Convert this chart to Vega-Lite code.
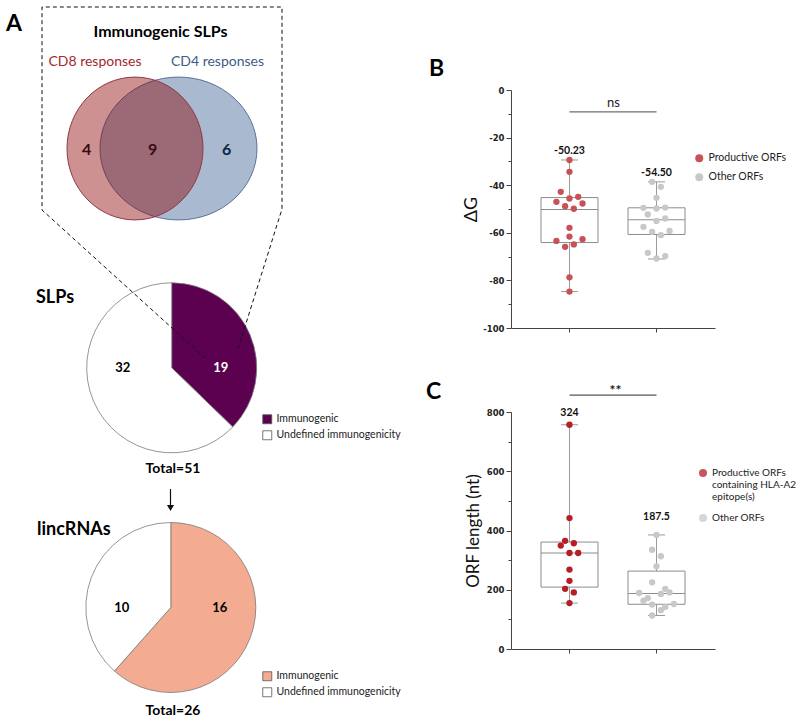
{
  "$schema": "https://vega.github.io/schema/vega-lite/v6.json",
  "padding": 0,
  "background": "white",
  "bounds": "flush",
  "spacing": 66,
  "config": {"view": {"stroke": null}, "font": "Lato", "axis": {"grid": false}},
  "resolve": {"scale": {"x": "independent", "y": "independent", "color": "independent"}},
  "datasets": {
    "venn": [
      {"set": "CD4", "cx": 17.85, "cy": 14.85},
      {"set": "CD8", "cx": 13.5, "cy": 14.85}
    ],
    "vennN": [
      {"region": "CD8 only", "n": 4, "cx": 8.67, "cy": 15.0},
      {"region": "CD8 and CD4", "n": 9, "cx": 15.27, "cy": 15.0},
      {"region": "CD4 only", "n": 6, "cx": 22.67, "cy": 15.0}
    ],
    "pies": [
      {"pie": "SLPs", "status": "Immunogenic", "n": 19, "cx": 17.17, "cy": 36.78},
      {"pie": "SLPs", "status": "Undefined immunogenicity", "n": 32, "cx": 17.17, "cy": 36.78},
      {"pie": "lincRNAs", "status": "Immunogenic", "n": 16, "cx": 17.08, "cy": 60.75},
      {"pie": "lincRNAs", "status": "Undefined immunogenicity", "n": 10, "cx": 17.08, "cy": 60.75}
    ],
    "outline": [
      {"seq": 0, "cx": 20.5, "cy": 35.8},
      {"seq": 1, "cx": 4.2, "cy": 21.0},
      {"seq": 2, "cx": 4.2, "cy": 0.7},
      {"seq": 3, "cx": 28.2, "cy": 0.7},
      {"seq": 4, "cx": 28.2, "cy": 20.9},
      {"seq": 5, "cx": 23.7, "cy": 35.2}
    ],
    "arrow": [{"cx": 17.05, "cy": 48.9, "cy2": 50.8}],
    "labels": [
      {"kind": "panel", "text": "A", "cx": 0.6, "cy": 2.4},
      {"kind": "panel", "text": "B", "cx": 42.9, "cy": 6.9},
      {"kind": "panel", "text": "C", "cx": 42.6, "cy": 39.2},
      {"kind": "heading", "text": "Immunogenic SLPs", "cx": 16.05, "cy": 3.2},
      {"kind": "cd8", "text": "CD8 responses", "cx": 9.5, "cy": 6.2},
      {"kind": "cd4", "text": "CD4 responses", "cx": 21.75, "cy": 6.2},
      {"kind": "pietitle", "text": "SLPs", "cx": 3.6, "cy": 29.8},
      {"kind": "pietitle", "text": "lincRNAs", "cx": 3.7, "cy": 53.0},
      {"kind": "total", "text": "Total=51", "cx": 17.3, "cy": 46.9},
      {"kind": "total", "text": "Total=26", "cx": 17.3, "cy": 71.1}
    ],
    "ptsB": [
      {"group": "Productive ORFs", "value": -29.4, "lane": 0},
      {"group": "Productive ORFs", "value": -34.4, "lane": 0},
      {"group": "Productive ORFs", "value": -42.8, "lane": -2},
      {"group": "Productive ORFs", "value": -47.0, "lane": -3},
      {"group": "Productive ORFs", "value": -45.6, "lane": 0},
      {"group": "Productive ORFs", "value": -44.9, "lane": 2},
      {"group": "Productive ORFs", "value": -48.8, "lane": -1},
      {"group": "Productive ORFs", "value": -49.9, "lane": 1},
      {"group": "Productive ORFs", "value": -47.7, "lane": 3},
      {"group": "Productive ORFs", "value": -57.9, "lane": 0},
      {"group": "Productive ORFs", "value": -61.6, "lane": 0},
      {"group": "Productive ORFs", "value": -63.4, "lane": -3},
      {"group": "Productive ORFs", "value": -62.7, "lane": 3},
      {"group": "Productive ORFs", "value": -65.9, "lane": -1},
      {"group": "Productive ORFs", "value": -64.9, "lane": 1},
      {"group": "Productive ORFs", "value": -78.7, "lane": 0},
      {"group": "Productive ORFs", "value": -84.7, "lane": 0},
      {"group": "Other ORFs", "value": -49.5, "lane": -3},
      {"group": "Other ORFs", "value": -49.8, "lane": 0},
      {"group": "Other ORFs", "value": -49.4, "lane": 2},
      {"group": "Other ORFs", "value": -52.3, "lane": -2},
      {"group": "Other ORFs", "value": -55.0, "lane": 0},
      {"group": "Other ORFs", "value": -54.0, "lane": 2},
      {"group": "Other ORFs", "value": -57.5, "lane": -3},
      {"group": "Other ORFs", "value": -59.6, "lane": -1},
      {"group": "Other ORFs", "value": -61.0, "lane": 1},
      {"group": "Other ORFs", "value": -59.2, "lane": 3},
      {"group": "Other ORFs", "value": -45.3, "lane": 0},
      {"group": "Other ORFs", "value": -38.6, "lane": -1},
      {"group": "Other ORFs", "value": -40.7, "lane": 1},
      {"group": "Other ORFs", "value": -68.4, "lane": -2},
      {"group": "Other ORFs", "value": -69.8, "lane": 2},
      {"group": "Other ORFs", "value": -70.8, "lane": 0}
    ],
    "boxB": [
      {"group": "Productive ORFs", "q1": -64.1, "median": -50.23, "q3": -45.2, "lo": -84.7, "hi": -29.4, "label": "-50.23"},
      {"group": "Other ORFs", "q1": -60.7, "median": -54.5, "q3": -49.5, "lo": -71.0, "hi": -38.6, "label": "-54.50"}
    ],
    "brB": [{"group": "Productive ORFs", "group2": "Other ORFs", "level": -9.2, "sig": "ns"}],
    "ptsC": [
      {"group": "Productive ORFs containing HLA-A2 epitope(s)", "value": 757, "lane": 0},
      {"group": "Productive ORFs containing HLA-A2 epitope(s)", "value": 442, "lane": 0},
      {"group": "Productive ORFs containing HLA-A2 epitope(s)", "value": 365, "lane": -1},
      {"group": "Productive ORFs containing HLA-A2 epitope(s)", "value": 349, "lane": -2},
      {"group": "Productive ORFs containing HLA-A2 epitope(s)", "value": 357, "lane": 1},
      {"group": "Productive ORFs containing HLA-A2 epitope(s)", "value": 324, "lane": 0},
      {"group": "Productive ORFs containing HLA-A2 epitope(s)", "value": 324, "lane": 2},
      {"group": "Productive ORFs containing HLA-A2 epitope(s)", "value": 268, "lane": 0},
      {"group": "Productive ORFs containing HLA-A2 epitope(s)", "value": 230, "lane": 0},
      {"group": "Productive ORFs containing HLA-A2 epitope(s)", "value": 203, "lane": -1},
      {"group": "Productive ORFs containing HLA-A2 epitope(s)", "value": 191, "lane": 1},
      {"group": "Productive ORFs containing HLA-A2 epitope(s)", "value": 155, "lane": 0},
      {"group": "Other ORFs", "value": 385, "lane": 0},
      {"group": "Other ORFs", "value": 335, "lane": -1},
      {"group": "Other ORFs", "value": 313, "lane": 1},
      {"group": "Other ORFs", "value": 279, "lane": 0},
      {"group": "Other ORFs", "value": 225, "lane": -1},
      {"group": "Other ORFs", "value": 189, "lane": -4},
      {"group": "Other ORFs", "value": 203, "lane": 2},
      {"group": "Other ORFs", "value": 191, "lane": 3},
      {"group": "Other ORFs", "value": 186, "lane": 1},
      {"group": "Other ORFs", "value": 172, "lane": -2},
      {"group": "Other ORFs", "value": 163, "lane": -3},
      {"group": "Other ORFs", "value": 150, "lane": -1},
      {"group": "Other ORFs", "value": 152, "lane": 4},
      {"group": "Other ORFs", "value": 142, "lane": 2},
      {"group": "Other ORFs", "value": 131, "lane": 1},
      {"group": "Other ORFs", "value": 113, "lane": -1}
    ],
    "boxC": [
      {"group": "Productive ORFs containing HLA-A2 epitope(s)", "q1": 209, "median": 324, "q3": 361, "lo": 155, "hi": 757, "label": "324"},
      {"group": "Other ORFs", "q1": 151, "median": 187.5, "q3": 263, "lo": 113, "hi": 385, "label": "187.5"}
    ],
    "brC": [{"group": "Productive ORFs containing HLA-A2 epitope(s)", "group2": "Other ORFs", "level": 857, "sig": "**"}]
  },
  "hconcat": [
    {
      "width": 445,
      "height": 720,
      "resolve": {"scale": {"theta": "independent", "color": "independent"}},
      "encoding": {
        "x": {"field": "cx", "type": "quantitative", "scale": {"domain": [0, 44.5], "nice": false, "zero": false}, "axis": null},
        "y": {"field": "cy", "type": "quantitative", "scale": {"domain": [0, 72], "nice": false, "zero": false, "reverse": true}, "axis": null}
      },
      "layer": [
        {
          "data": {"name": "pies"},
          "transform": [{"filter": "datum.pie == 'SLPs'"}],
          "mark": {"type": "arc", "outerRadius": 85, "stroke": "#7a7a7a", "strokeWidth": 0.8},
          "encoding": {
            "theta": {"field": "n", "type": "quantitative", "stack": true},
            "color": {"field": "status", "type": "nominal",
              "scale": {"domain": ["Immunogenic", "Undefined immunogenicity"], "range": ["#5C0150", "#FFFFFF"]},
              "legend": {"orient": "none", "legendX": 262, "legendY": 414, "title": null, "symbolType": "square", "symbolSize": 81, "labelFont": "Lato", "labelFontSize": 10.5, "labelColor": "#222", "rowPadding": 3, "padding": 0, "symbolStrokeColor": "#555", "symbolStrokeWidth": 0.8}}
          }
        },
        {
          "data": {"name": "pies"},
          "transform": [{"filter": "datum.pie == 'lincRNAs'"}],
          "mark": {"type": "arc", "outerRadius": 85, "stroke": "#7a7a7a", "strokeWidth": 0.8},
          "encoding": {
            "theta": {"field": "n", "type": "quantitative", "stack": true},
            "color": {"field": "status", "type": "nominal",
              "scale": {"domain": ["Immunogenic", "Undefined immunogenicity"], "range": ["#F3AB91", "#FFFFFF"]},
              "legend": {"orient": "none", "legendX": 262, "legendY": 671, "title": null, "symbolType": "square", "symbolSize": 81, "labelFont": "Lato", "labelFontSize": 10.5, "labelColor": "#222", "rowPadding": 3, "padding": 0, "symbolStrokeColor": "#555", "symbolStrokeWidth": 0.8}}
          }
        },
        {
          "data": {"name": "venn"},
          "transform": [{"filter": "datum.set == 'CD4'"}],
          "mark": {"type": "point", "shape": "M-1,0A1,0.91,0,1,1,1,0A1,0.91,0,1,1,-1,0Z", "size": 24649, "filled": true, "fill": "#A9B9D0", "fillOpacity": 1, "stroke": "#5B7399", "strokeWidth": 1, "opacity": 1}
        },
        {
          "data": {"name": "venn"},
          "transform": [{"filter": "datum.set == 'CD8'"}],
          "mark": {"type": "point", "shape": "M-1,0A1,1.05,0,1,1,1,0A1,1.05,0,1,1,-1,0Z", "size": 18496, "filled": true, "fill": "#8B0000", "fillOpacity": 0.43, "stroke": "#8E3A44", "strokeOpacity": 1, "strokeWidth": 1, "opacity": 1}
        },
        {
          "data": {"name": "vennN"},
          "mark": {"type": "text", "font": "Lato", "fontWeight": "bold", "fontSize": 16, "baseline": "middle", "align": "center"},
          "encoding": {
            "text": {"field": "n"},
            "color": {"field": "region", "type": "nominal", "scale": {"domain": ["CD8 only", "CD8 and CD4", "CD4 only"], "range": ["#3B0B10", "#3B0B14", "#0E2444"]}, "legend": null}
          }
        },
        {
          "data": {"name": "outline"},
          "mark": {"type": "line", "strokeDash": [4, 3], "color": "#111", "strokeWidth": 1},
          "encoding": {"order": {"field": "seq", "type": "quantitative"}}
        },
        {
          "data": {"name": "arrow"},
          "mark": {"type": "rule", "color": "#111", "strokeWidth": 1.2},
          "encoding": {"y2": {"field": "cy2"}}
        },
        {
          "data": {"name": "arrow"},
          "mark": {"type": "point", "shape": "triangle-down", "size": 50, "filled": true, "color": "#111", "opacity": 1},
          "encoding": {"y": {"field": "cy2", "type": "quantitative", "scale": {"domain": [0, 72], "nice": false, "zero": false, "reverse": true}, "axis": null}}
        },
        {
          "data": {"name": "labels"},
          "transform": [{"filter": "datum.kind == 'panel'"}],
          "mark": {"type": "text", "font": "Lato", "fontWeight": "bold", "fontSize": 23, "align": "left", "baseline": "middle", "color": "#000"},
          "encoding": {"text": {"field": "text"}}
        },
        {
          "data": {"name": "labels"},
          "transform": [{"filter": "datum.kind == 'heading'"}],
          "mark": {"type": "text", "font": "Lato", "fontWeight": "bold", "fontSize": 16, "align": "center", "baseline": "middle", "color": "#000"},
          "encoding": {"text": {"field": "text"}}
        },
        {
          "data": {"name": "labels"},
          "transform": [{"filter": "datum.kind == 'cd8'"}],
          "mark": {"type": "text", "font": "Lato", "fontSize": 14, "align": "center", "baseline": "middle", "color": "#A2282E"},
          "encoding": {"text": {"field": "text"}}
        },
        {
          "data": {"name": "labels"},
          "transform": [{"filter": "datum.kind == 'cd4'"}],
          "mark": {"type": "text", "font": "Lato", "fontSize": 14, "align": "center", "baseline": "middle", "color": "#3F5C86"},
          "encoding": {"text": {"field": "text"}}
        },
        {
          "data": {"name": "labels"},
          "transform": [{"filter": "datum.kind == 'pietitle'"}],
          "mark": {"type": "text", "font": "Lato", "fontWeight": "bold", "fontSize": 18, "align": "left", "baseline": "middle", "color": "#000"},
          "encoding": {"text": {"field": "text"}}
        },
        {
          "data": {"name": "labels"},
          "transform": [{"filter": "datum.kind == 'total'"}],
          "mark": {"type": "text", "font": "Lato", "fontWeight": "bold", "fontSize": 14, "align": "center", "baseline": "middle", "color": "#000"},
          "encoding": {"text": {"field": "text"}}
        },
        {
          "data": {"name": "pies"},
          "transform": [{"filter": "datum.status == 'Immunogenic'"}],
          "mark": {"type": "text", "font": "Lato", "fontWeight": "bold", "fontSize": 13, "align": "center", "baseline": "middle", "dx": 49},
          "encoding": {
            "text": {"field": "n"},
            "color": {"condition": {"test": "datum.pie == 'SLPs'", "value": "#FFFFFF"}, "value": "#000000"}
          }
        },
        {
          "data": {"name": "pies"},
          "transform": [{"filter": "datum.status != 'Immunogenic'"}],
          "mark": {"type": "text", "font": "Lato", "fontWeight": "bold", "fontSize": 13, "align": "center", "baseline": "middle", "dx": -49, "color": "#000"},
          "encoding": {"text": {"field": "n"}}
        }
      ]
    },
    {
      "bounds": "flush",
      "spacing": 84,
      "resolve": {"scale": {"x": "independent", "y": "independent", "color": "independent", "xOffset": "independent"}},
      "vconcat": [
        {"width": 204, "height": 6, "data": {"values": []}, "mark": "point", "encoding": {}},
        {
          "width": 204,
          "height": 238,
          "encoding": {
            "x": {"field": "group", "type": "nominal", "title": null,
              "scale": {"domain": ["Productive ORFs", "Other ORFs"], "paddingInner": 0, "paddingOuter": 0.172},
              "axis": {"title": null, "labels": false, "ticks": true, "tickSize": 4, "bandPosition": 0.5, "domainColor": "#444", "tickColor": "#444", "domainWidth": 1}}
          },
          "layer": [
            {
              "data": {"name": "brB"},
              "mark": {"type": "rule", "color": "#6e6e6e", "strokeWidth": 1.3},
              "encoding": {
                "x2": {"field": "group2"},
                "y": {"field": "level", "type": "quantitative", "scale": {"domain": [-100, 0], "nice": false, "zero": false},
                  "axis": {"title": "ΔG", "values": [-100, -90, -80, -70, -60, -50, -40, -30, -20, -10, 0], "labelExpr": "datum.value % 20 == 0 ? '' + datum.value : ''", "labelOverlap": false, "tickSize": {"condition": {"test": "datum.value % 20 == 0", "value": 5}, "value": 3}, "labelFont": "DejaVu Sans", "labelFontWeight": "bold", "labelFontSize": 8.5, "labelColor": "#222", "labelPadding": 2, "domainColor": "#444", "tickColor": "#444", "domainWidth": 1, "titleFont": "Lato", "titleFontSize": 18, "titleFontWeight": "normal", "titleColor": "#111", "titlePadding": 2}}
              }
            },
            {
              "data": {"name": "brB"},
              "mark": {"type": "text", "dx": 44, "dy": -9, "baseline": "middle", "align": "center", "fontSize": 13, "font": "Lato", "color": "#222"},
              "encoding": {
                "y": {"field": "level", "type": "quantitative", "scale": {"domain": [-100, 0], "nice": false, "zero": false},
                  "axis": {"title": "ΔG", "values": [-100, -90, -80, -70, -60, -50, -40, -30, -20, -10, 0], "labelExpr": "datum.value % 20 == 0 ? '' + datum.value : ''", "labelOverlap": false, "tickSize": {"condition": {"test": "datum.value % 20 == 0", "value": 5}, "value": 3}, "labelFont": "DejaVu Sans", "labelFontWeight": "bold", "labelFontSize": 8.5, "labelColor": "#222", "labelPadding": 2, "domainColor": "#444", "tickColor": "#444", "domainWidth": 1, "titleFont": "Lato", "titleFontSize": 18, "titleFontWeight": "normal", "titleColor": "#111", "titlePadding": 2}},
                "text": {"field": "sig"}
              }
            },
            {
              "data": {"name": "boxB"},
              "mark": {"type": "rule", "color": "#9a9a9a", "strokeWidth": 1},
              "encoding": {
                "y": {"field": "hi", "type": "quantitative", "scale": {"domain": [-100, 0], "nice": false, "zero": false},
                  "axis": {"title": "ΔG", "values": [-100, -90, -80, -70, -60, -50, -40, -30, -20, -10, 0], "labelExpr": "datum.value % 20 == 0 ? '' + datum.value : ''", "labelOverlap": false, "tickSize": {"condition": {"test": "datum.value % 20 == 0", "value": 5}, "value": 3}, "labelFont": "DejaVu Sans", "labelFontWeight": "bold", "labelFontSize": 8.5, "labelColor": "#222", "labelPadding": 2, "domainColor": "#444", "tickColor": "#444", "domainWidth": 1, "titleFont": "Lato", "titleFontSize": 18, "titleFontWeight": "normal", "titleColor": "#111", "titlePadding": 2}},
                "y2": {"field": "q3"}
              }
            },
            {
              "data": {"name": "boxB"},
              "mark": {"type": "rule", "color": "#9a9a9a", "strokeWidth": 1},
              "encoding": {
                "y": {"field": "q1", "type": "quantitative", "scale": {"domain": [-100, 0], "nice": false, "zero": false},
                  "axis": {"title": "ΔG", "values": [-100, -90, -80, -70, -60, -50, -40, -30, -20, -10, 0], "labelExpr": "datum.value % 20 == 0 ? '' + datum.value : ''", "labelOverlap": false, "tickSize": {"condition": {"test": "datum.value % 20 == 0", "value": 5}, "value": 3}, "labelFont": "DejaVu Sans", "labelFontWeight": "bold", "labelFontSize": 8.5, "labelColor": "#222", "labelPadding": 2, "domainColor": "#444", "tickColor": "#444", "domainWidth": 1, "titleFont": "Lato", "titleFontSize": 18, "titleFontWeight": "normal", "titleColor": "#111", "titlePadding": 2}},
                "y2": {"field": "lo"}
              }
            },
            {
              "data": {"name": "boxB"},
              "mark": {"type": "tick", "size": 17, "thickness": 1, "color": "#9a9a9a", "opacity": 1},
              "encoding": {
                "y": {"field": "hi", "type": "quantitative", "scale": {"domain": [-100, 0], "nice": false, "zero": false},
                  "axis": {"title": "ΔG", "values": [-100, -90, -80, -70, -60, -50, -40, -30, -20, -10, 0], "labelExpr": "datum.value % 20 == 0 ? '' + datum.value : ''", "labelOverlap": false, "tickSize": {"condition": {"test": "datum.value % 20 == 0", "value": 5}, "value": 3}, "labelFont": "DejaVu Sans", "labelFontWeight": "bold", "labelFontSize": 8.5, "labelColor": "#222", "labelPadding": 2, "domainColor": "#444", "tickColor": "#444", "domainWidth": 1, "titleFont": "Lato", "titleFontSize": 18, "titleFontWeight": "normal", "titleColor": "#111", "titlePadding": 2}}
              }
            },
            {
              "data": {"name": "boxB"},
              "mark": {"type": "tick", "size": 17, "thickness": 1, "color": "#9a9a9a", "opacity": 1},
              "encoding": {
                "y": {"field": "lo", "type": "quantitative", "scale": {"domain": [-100, 0], "nice": false, "zero": false},
                  "axis": {"title": "ΔG", "values": [-100, -90, -80, -70, -60, -50, -40, -30, -20, -10, 0], "labelExpr": "datum.value % 20 == 0 ? '' + datum.value : ''", "labelOverlap": false, "tickSize": {"condition": {"test": "datum.value % 20 == 0", "value": 5}, "value": 3}, "labelFont": "DejaVu Sans", "labelFontWeight": "bold", "labelFontSize": 8.5, "labelColor": "#222", "labelPadding": 2, "domainColor": "#444", "tickColor": "#444", "domainWidth": 1, "titleFont": "Lato", "titleFontSize": 18, "titleFontWeight": "normal", "titleColor": "#111", "titlePadding": 2}}
              }
            },
            {
              "data": {"name": "boxB"},
              "mark": {"type": "bar", "width": 57, "filled": false, "stroke": "#8c8c8c", "strokeWidth": 1},
              "encoding": {
                "y": {"field": "q3", "type": "quantitative", "scale": {"domain": [-100, 0], "nice": false, "zero": false},
                  "axis": {"title": "ΔG", "values": [-100, -90, -80, -70, -60, -50, -40, -30, -20, -10, 0], "labelExpr": "datum.value % 20 == 0 ? '' + datum.value : ''", "labelOverlap": false, "tickSize": {"condition": {"test": "datum.value % 20 == 0", "value": 5}, "value": 3}, "labelFont": "DejaVu Sans", "labelFontWeight": "bold", "labelFontSize": 8.5, "labelColor": "#222", "labelPadding": 2, "domainColor": "#444", "tickColor": "#444", "domainWidth": 1, "titleFont": "Lato", "titleFontSize": 18, "titleFontWeight": "normal", "titleColor": "#111", "titlePadding": 2}},
                "y2": {"field": "q1"}
              }
            },
            {
              "data": {"name": "boxB"},
              "mark": {"type": "tick", "size": 57, "thickness": 1, "color": "#8c8c8c", "opacity": 1},
              "encoding": {
                "y": {"field": "median", "type": "quantitative", "scale": {"domain": [-100, 0], "nice": false, "zero": false},
                  "axis": {"title": "ΔG", "values": [-100, -90, -80, -70, -60, -50, -40, -30, -20, -10, 0], "labelExpr": "datum.value % 20 == 0 ? '' + datum.value : ''", "labelOverlap": false, "tickSize": {"condition": {"test": "datum.value % 20 == 0", "value": 5}, "value": 3}, "labelFont": "DejaVu Sans", "labelFontWeight": "bold", "labelFontSize": 8.5, "labelColor": "#222", "labelPadding": 2, "domainColor": "#444", "tickColor": "#444", "domainWidth": 1, "titleFont": "Lato", "titleFontSize": 18, "titleFontWeight": "normal", "titleColor": "#111", "titlePadding": 2}}
              }
            },
            {
              "data": {"name": "ptsB"},
              "mark": {"type": "circle", "size": 40, "opacity": 1},
              "encoding": {
                "xOffset": {"field": "lane", "type": "quantitative", "scale": {"domain": [-10, 10], "range": [0, 87]}},
                "y": {"field": "value", "type": "quantitative", "scale": {"domain": [-100, 0], "nice": false, "zero": false},
                  "axis": {"title": "ΔG", "values": [-100, -90, -80, -70, -60, -50, -40, -30, -20, -10, 0], "labelExpr": "datum.value % 20 == 0 ? '' + datum.value : ''", "labelOverlap": false, "tickSize": {"condition": {"test": "datum.value % 20 == 0", "value": 5}, "value": 3}, "labelFont": "DejaVu Sans", "labelFontWeight": "bold", "labelFontSize": 8.5, "labelColor": "#222", "labelPadding": 2, "domainColor": "#444", "tickColor": "#444", "domainWidth": 1, "titleFont": "Lato", "titleFontSize": 18, "titleFontWeight": "normal", "titleColor": "#111", "titlePadding": 2}},
                "color": {"field": "group", "type": "nominal", "scale": {"domain": ["Productive ORFs", "Other ORFs"], "range": ["#C75157", "#C8C8C8"]},
                  "legend": {"orient": "none", "legendX": 183, "legendY": 63, "title": null, "symbolType": "circle", "symbolSize": 64, "labelFont": "Lato", "labelFontSize": 10.5, "labelColor": "#222", "rowPadding": 8, "padding": 0, "symbolStrokeWidth": 0}}
              }
            },
            {
              "data": {"name": "boxB"},
              "mark": {"type": "text", "dy": -8.5, "baseline": "middle", "align": "center", "font": "Lato", "fontWeight": "bold", "fontSize": 10.5, "color": "#111"},
              "encoding": {
                "y": {"field": "hi", "type": "quantitative", "scale": {"domain": [-100, 0], "nice": false, "zero": false},
                  "axis": {"title": "ΔG", "values": [-100, -90, -80, -70, -60, -50, -40, -30, -20, -10, 0], "labelExpr": "datum.value % 20 == 0 ? '' + datum.value : ''", "labelOverlap": false, "tickSize": {"condition": {"test": "datum.value % 20 == 0", "value": 5}, "value": 3}, "labelFont": "DejaVu Sans", "labelFontWeight": "bold", "labelFontSize": 8.5, "labelColor": "#222", "labelPadding": 2, "domainColor": "#444", "tickColor": "#444", "domainWidth": 1, "titleFont": "Lato", "titleFontSize": 18, "titleFontWeight": "normal", "titleColor": "#111", "titlePadding": 2}},
                "text": {"field": "label"}
              }
            }
          ]
        },
        {
          "width": 204,
          "height": 237,
          "encoding": {
            "x": {"field": "group", "type": "nominal", "title": null,
              "scale": {"domain": ["Productive ORFs containing HLA-A2 epitope(s)", "Other ORFs"], "paddingInner": 0, "paddingOuter": 0.172},
              "axis": {"title": null, "labels": false, "ticks": true, "tickSize": 4, "bandPosition": 0.5, "domainColor": "#444", "tickColor": "#444", "domainWidth": 1}}
          },
          "layer": [
            {
              "data": {"name": "brC"},
              "mark": {"type": "rule", "color": "#555", "strokeWidth": 1.3},
              "encoding": {
                "x2": {"field": "group2"},
                "y": {"field": "level", "type": "quantitative", "scale": {"domain": [0, 800], "nice": false, "zero": false},
                  "axis": {"title": "ORF length (nt)", "values": [0, 100, 200, 300, 400, 500, 600, 700, 800], "labelExpr": "datum.value % 200 == 0 ? '' + datum.value : ''", "labelOverlap": false, "tickSize": {"condition": {"test": "datum.value % 200 == 0", "value": 5}, "value": 3}, "labelFont": "DejaVu Sans", "labelFontWeight": "bold", "labelFontSize": 8.5, "labelColor": "#222", "labelPadding": 2, "domainColor": "#444", "tickColor": "#444", "domainWidth": 1, "titleFont": "Lato", "titleFontSize": 17, "titleFontWeight": "normal", "titleColor": "#111", "titlePadding": 4}}
              }
            },
            {
              "data": {"name": "brC"},
              "mark": {"type": "text", "dx": 46, "dy": -4.5, "baseline": "middle", "align": "center", "fontSize": 14, "fontWeight": "bold", "font": "Lato", "color": "#222"},
              "encoding": {
                "y": {"field": "level", "type": "quantitative", "scale": {"domain": [0, 800], "nice": false, "zero": false},
                  "axis": {"title": "ORF length (nt)", "values": [0, 100, 200, 300, 400, 500, 600, 700, 800], "labelExpr": "datum.value % 200 == 0 ? '' + datum.value : ''", "labelOverlap": false, "tickSize": {"condition": {"test": "datum.value % 200 == 0", "value": 5}, "value": 3}, "labelFont": "DejaVu Sans", "labelFontWeight": "bold", "labelFontSize": 8.5, "labelColor": "#222", "labelPadding": 2, "domainColor": "#444", "tickColor": "#444", "domainWidth": 1, "titleFont": "Lato", "titleFontSize": 17, "titleFontWeight": "normal", "titleColor": "#111", "titlePadding": 4}},
                "text": {"field": "sig"}
              }
            },
            {
              "data": {"name": "boxC"},
              "mark": {"type": "rule", "color": "#9a9a9a", "strokeWidth": 1},
              "encoding": {
                "y": {"field": "hi", "type": "quantitative", "scale": {"domain": [0, 800], "nice": false, "zero": false},
                  "axis": {"title": "ORF length (nt)", "values": [0, 100, 200, 300, 400, 500, 600, 700, 800], "labelExpr": "datum.value % 200 == 0 ? '' + datum.value : ''", "labelOverlap": false, "tickSize": {"condition": {"test": "datum.value % 200 == 0", "value": 5}, "value": 3}, "labelFont": "DejaVu Sans", "labelFontWeight": "bold", "labelFontSize": 8.5, "labelColor": "#222", "labelPadding": 2, "domainColor": "#444", "tickColor": "#444", "domainWidth": 1, "titleFont": "Lato", "titleFontSize": 17, "titleFontWeight": "normal", "titleColor": "#111", "titlePadding": 4}},
                "y2": {"field": "q3"}
              }
            },
            {
              "data": {"name": "boxC"},
              "mark": {"type": "rule", "color": "#9a9a9a", "strokeWidth": 1},
              "encoding": {
                "y": {"field": "q1", "type": "quantitative", "scale": {"domain": [0, 800], "nice": false, "zero": false},
                  "axis": {"title": "ORF length (nt)", "values": [0, 100, 200, 300, 400, 500, 600, 700, 800], "labelExpr": "datum.value % 200 == 0 ? '' + datum.value : ''", "labelOverlap": false, "tickSize": {"condition": {"test": "datum.value % 200 == 0", "value": 5}, "value": 3}, "labelFont": "DejaVu Sans", "labelFontWeight": "bold", "labelFontSize": 8.5, "labelColor": "#222", "labelPadding": 2, "domainColor": "#444", "tickColor": "#444", "domainWidth": 1, "titleFont": "Lato", "titleFontSize": 17, "titleFontWeight": "normal", "titleColor": "#111", "titlePadding": 4}},
                "y2": {"field": "lo"}
              }
            },
            {
              "data": {"name": "boxC"},
              "mark": {"type": "tick", "size": 17, "thickness": 1, "color": "#9a9a9a", "opacity": 1},
              "encoding": {
                "y": {"field": "hi", "type": "quantitative", "scale": {"domain": [0, 800], "nice": false, "zero": false},
                  "axis": {"title": "ORF length (nt)", "values": [0, 100, 200, 300, 400, 500, 600, 700, 800], "labelExpr": "datum.value % 200 == 0 ? '' + datum.value : ''", "labelOverlap": false, "tickSize": {"condition": {"test": "datum.value % 200 == 0", "value": 5}, "value": 3}, "labelFont": "DejaVu Sans", "labelFontWeight": "bold", "labelFontSize": 8.5, "labelColor": "#222", "labelPadding": 2, "domainColor": "#444", "tickColor": "#444", "domainWidth": 1, "titleFont": "Lato", "titleFontSize": 17, "titleFontWeight": "normal", "titleColor": "#111", "titlePadding": 4}}
              }
            },
            {
              "data": {"name": "boxC"},
              "mark": {"type": "tick", "size": 17, "thickness": 1, "color": "#9a9a9a", "opacity": 1},
              "encoding": {
                "y": {"field": "lo", "type": "quantitative", "scale": {"domain": [0, 800], "nice": false, "zero": false},
                  "axis": {"title": "ORF length (nt)", "values": [0, 100, 200, 300, 400, 500, 600, 700, 800], "labelExpr": "datum.value % 200 == 0 ? '' + datum.value : ''", "labelOverlap": false, "tickSize": {"condition": {"test": "datum.value % 200 == 0", "value": 5}, "value": 3}, "labelFont": "DejaVu Sans", "labelFontWeight": "bold", "labelFontSize": 8.5, "labelColor": "#222", "labelPadding": 2, "domainColor": "#444", "tickColor": "#444", "domainWidth": 1, "titleFont": "Lato", "titleFontSize": 17, "titleFontWeight": "normal", "titleColor": "#111", "titlePadding": 4}}
              }
            },
            {
              "data": {"name": "boxC"},
              "mark": {"type": "bar", "width": 57, "filled": false, "stroke": "#8c8c8c", "strokeWidth": 1},
              "encoding": {
                "y": {"field": "q3", "type": "quantitative", "scale": {"domain": [0, 800], "nice": false, "zero": false},
                  "axis": {"title": "ORF length (nt)", "values": [0, 100, 200, 300, 400, 500, 600, 700, 800], "labelExpr": "datum.value % 200 == 0 ? '' + datum.value : ''", "labelOverlap": false, "tickSize": {"condition": {"test": "datum.value % 200 == 0", "value": 5}, "value": 3}, "labelFont": "DejaVu Sans", "labelFontWeight": "bold", "labelFontSize": 8.5, "labelColor": "#222", "labelPadding": 2, "domainColor": "#444", "tickColor": "#444", "domainWidth": 1, "titleFont": "Lato", "titleFontSize": 17, "titleFontWeight": "normal", "titleColor": "#111", "titlePadding": 4}},
                "y2": {"field": "q1"}
              }
            },
            {
              "data": {"name": "boxC"},
              "mark": {"type": "tick", "size": 57, "thickness": 1, "color": "#8c8c8c", "opacity": 1},
              "encoding": {
                "y": {"field": "median", "type": "quantitative", "scale": {"domain": [0, 800], "nice": false, "zero": false},
                  "axis": {"title": "ORF length (nt)", "values": [0, 100, 200, 300, 400, 500, 600, 700, 800], "labelExpr": "datum.value % 200 == 0 ? '' + datum.value : ''", "labelOverlap": false, "tickSize": {"condition": {"test": "datum.value % 200 == 0", "value": 5}, "value": 3}, "labelFont": "DejaVu Sans", "labelFontWeight": "bold", "labelFontSize": 8.5, "labelColor": "#222", "labelPadding": 2, "domainColor": "#444", "tickColor": "#444", "domainWidth": 1, "titleFont": "Lato", "titleFontSize": 17, "titleFontWeight": "normal", "titleColor": "#111", "titlePadding": 4}}
              }
            },
            {
              "data": {"name": "ptsC"},
              "mark": {"type": "circle", "size": 40, "opacity": 1},
              "encoding": {
                "xOffset": {"field": "lane", "type": "quantitative", "scale": {"domain": [-10, 10], "range": [0, 87]}},
                "y": {"field": "value", "type": "quantitative", "scale": {"domain": [0, 800], "nice": false, "zero": false},
                  "axis": {"title": "ORF length (nt)", "values": [0, 100, 200, 300, 400, 500, 600, 700, 800], "labelExpr": "datum.value % 200 == 0 ? '' + datum.value : ''", "labelOverlap": false, "tickSize": {"condition": {"test": "datum.value % 200 == 0", "value": 5}, "value": 3}, "labelFont": "DejaVu Sans", "labelFontWeight": "bold", "labelFontSize": 8.5, "labelColor": "#222", "labelPadding": 2, "domainColor": "#444", "tickColor": "#444", "domainWidth": 1, "titleFont": "Lato", "titleFontSize": 17, "titleFontWeight": "normal", "titleColor": "#111", "titlePadding": 4}},
                "color": {"field": "group", "type": "nominal", "scale": {"domain": ["Productive ORFs containing HLA-A2 epitope(s)", "Other ORFs"], "range": ["#B51E24", "#C8C8C8"]},
                  "legend": {"orient": "none", "legendX": 187, "legendY": 56, "title": null, "symbolType": "circle", "symbolSize": 64, "symbolOpacity": 0.75, "labelFont": "Lato", "labelFontSize": 10, "labelColor": "#222", "rowPadding": 11, "padding": 0, "symbolStrokeWidth": 0,
                    "labelExpr": "datum.label == 'Other ORFs' ? datum.label : ['Productive ORFs', 'containing HLA-A2', 'epitope(s)']"}}
              }
            },
            {
              "data": {"name": "boxC"},
              "transform": [{"filter": "datum.group != 'Other ORFs'"}],
              "mark": {"type": "text", "dy": -11.5, "baseline": "middle", "align": "center", "font": "Lato", "fontWeight": "bold", "fontSize": 10.5, "color": "#111"},
              "encoding": {
                "y": {"field": "hi", "type": "quantitative", "scale": {"domain": [0, 800], "nice": false, "zero": false},
                  "axis": {"title": "ORF length (nt)", "values": [0, 100, 200, 300, 400, 500, 600, 700, 800], "labelExpr": "datum.value % 200 == 0 ? '' + datum.value : ''", "labelOverlap": false, "tickSize": {"condition": {"test": "datum.value % 200 == 0", "value": 5}, "value": 3}, "labelFont": "DejaVu Sans", "labelFontWeight": "bold", "labelFontSize": 8.5, "labelColor": "#222", "labelPadding": 2, "domainColor": "#444", "tickColor": "#444", "domainWidth": 1, "titleFont": "Lato", "titleFontSize": 17, "titleFontWeight": "normal", "titleColor": "#111", "titlePadding": 4}},
                "text": {"field": "label"}
              }
            },
            {
              "data": {"name": "boxC"},
              "transform": [{"filter": "datum.group == 'Other ORFs'"}],
              "mark": {"type": "text", "dy": -18, "baseline": "middle", "align": "center", "font": "Lato", "fontWeight": "bold", "fontSize": 10.5, "color": "#111"},
              "encoding": {
                "y": {"field": "hi", "type": "quantitative", "scale": {"domain": [0, 800], "nice": false, "zero": false},
                  "axis": {"title": "ORF length (nt)", "values": [0, 100, 200, 300, 400, 500, 600, 700, 800], "labelExpr": "datum.value % 200 == 0 ? '' + datum.value : ''", "labelOverlap": false, "tickSize": {"condition": {"test": "datum.value % 200 == 0", "value": 5}, "value": 3}, "labelFont": "DejaVu Sans", "labelFontWeight": "bold", "labelFontSize": 8.5, "labelColor": "#222", "labelPadding": 2, "domainColor": "#444", "tickColor": "#444", "domainWidth": 1, "titleFont": "Lato", "titleFontSize": 17, "titleFontWeight": "normal", "titleColor": "#111", "titlePadding": 4}},
                "text": {"field": "label"}
              }
            }
          ]
        }
      ]
    }
  ]
}
